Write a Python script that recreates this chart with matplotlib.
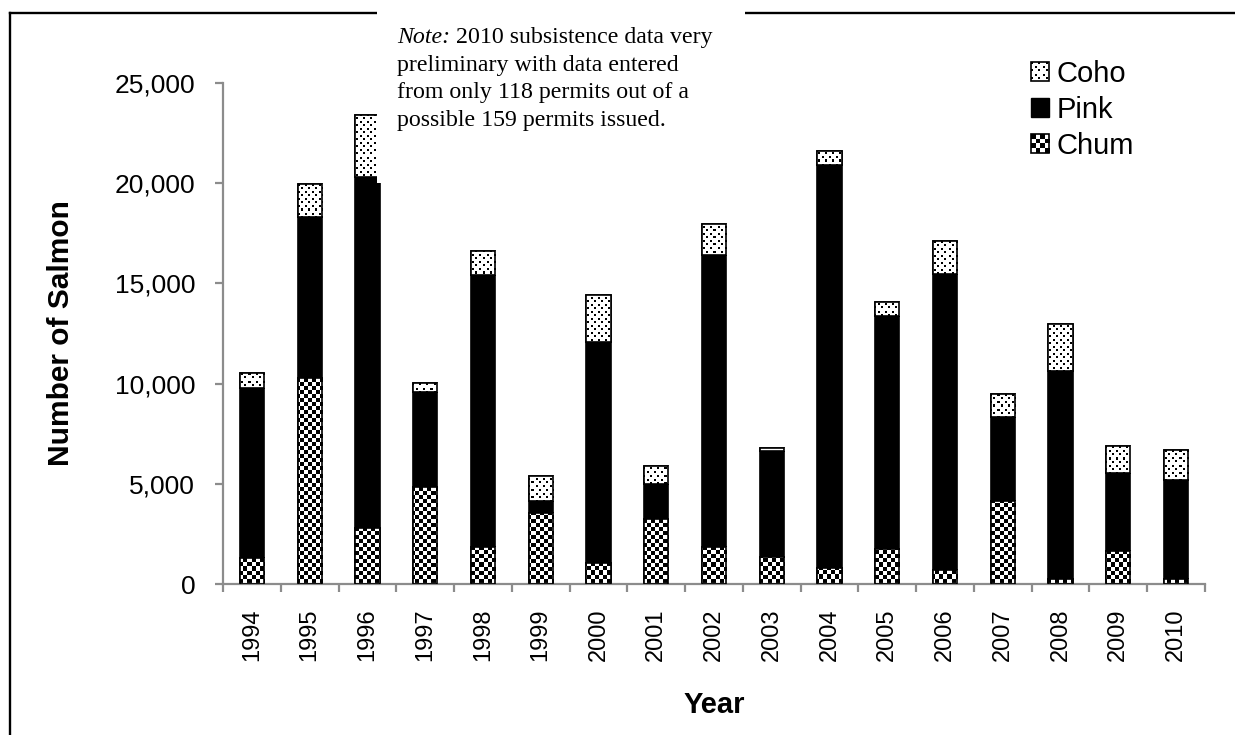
import numpy as np
import matplotlib
matplotlib.use("Agg")
import matplotlib.pyplot as plt
from matplotlib.patches import Rectangle, Patch
from matplotlib.lines import Line2D
from matplotlib.colors import Normalize
from matplotlib.image import BboxImage
from matplotlib.legend_handler import HandlerBase
from matplotlib.transforms import Bbox, TransformedBbox
from matplotlib.ticker import FuncFormatter

years = ["1994", "1995", "1996", "1997", "1998", "1999", "2000", "2001", "2002",
         "2003", "2004", "2005", "2006", "2007", "2008", "2009", "2010"]
chum = [1300, 10280, 2790, 4840, 1850, 3540, 1050, 3240, 1850,
        1350, 800, 1750, 700, 4140, 250, 1650, 250]
pink = [8480, 8020, 17510, 4740, 13550, 600, 11030, 1750, 14550,
        5290, 20100, 11620, 14770, 4190, 10380, 3890, 4940]
coho = [750, 1650, 3100, 450, 1200, 1250, 2320, 900, 1550,
        150, 700, 700, 1630, 1150, 2320, 1350, 1500]
note_lines = ["preliminary with data entered",
              "from only 118 permits out of a",
              "possible 159 permits issued."]

W, H = 1235, 735
plt.rcParams["font.family"] = ["Liberation Sans", "DejaVu Sans"]


def checker(h, w, cell):
    yy, xx = np.mgrid[0:h, 0:w]
    return ((yy // cell + xx // cell) % 2).astype(float)


def dots(h, w, step):
    yy, xx = np.mgrid[0:h, 0:w]
    a = np.ones((h, w))
    a[((yy % step) < 2) & ((xx % step) < 2)] = 0
    a[(((yy + step // 2) % step) < 2) & (((xx + step // 2) % step) < 2)] = 0
    return a


class TextureHandler(HandlerBase):
    def __init__(self, tex):
        super().__init__()
        self.tex = tex

    def legend_artist(self, legend, orig_handle, fontsize, handlebox):
        x0, y0 = -handlebox.xdescent, -handlebox.ydescent
        w, h = handlebox.width, handlebox.height
        trans = handlebox.get_transform()
        bb = TransformedBbox(Bbox.from_bounds(x0, y0, w, h), trans)
        im = BboxImage(bb, cmap="gray", norm=Normalize(0, 1), interpolation="nearest")
        im.set_data(self.tex)
        handlebox.add_artist(im)
        im.set_transform(trans)
        rect = Rectangle((x0, y0), w, h, fc="none", ec="black", lw=1.2)
        handlebox.add_artist(rect)
        return rect


fig = plt.figure(figsize=(W / 100, H / 100), dpi=100)
ax_l, ax_r, ax_b, ax_t = 223, 1205, 584, 83
ax = fig.add_axes([ax_l / W, 1 - ax_b / H, (ax_r - ax_l) / W, (ax_b - ax_t) / H])

x = np.arange(len(years))
bw = 0.42
chum_arr = np.array(chum)
pink_arr = np.array(pink)
coho_arr = np.array(coho)

b_chum = ax.bar(x, chum_arr, bw, color="white", edgecolor="black", lw=1.2, zorder=2)
ax.bar(x, pink_arr, bw, bottom=chum_arr, color="black", edgecolor="black", lw=1.2, zorder=2)
b_coho = ax.bar(x, coho_arr, bw, bottom=chum_arr + pink_arr, color="white",
                edgecolor="black", lw=1.2, zorder=2)

# textures clipped to each bar
aw, ah = ax_r - ax_l, ax_b - ax_t
tex_checker = checker(ah, aw, 4)
tex_dots = dots(ah, aw, 7)
for bars, tex in ((b_chum, tex_checker), (b_coho, tex_dots)):
    for bar in bars:
        im = ax.imshow(tex, extent=[0, 1, 0, 1], transform=ax.transAxes, cmap="gray",
                       vmin=0, vmax=1, interpolation="nearest", aspect="auto", zorder=2.1)
        im.set_clip_path(bar)
ax.bar(x, chum_arr, bw, fill=False, edgecolor="black", lw=1.2, zorder=3)
ax.bar(x, coho_arr, bw, bottom=chum_arr + pink_arr, fill=False,
       edgecolor="black", lw=1.2, zorder=3)

ax.set_xlim(-0.5, len(years) - 0.5)
ax.set_ylim(0, 25000)
ax.set_yticks(np.arange(0, 25001, 5000))
ax.yaxis.set_major_formatter(FuncFormatter(lambda v, p: f"{int(v):,}"))
ax.set_xticks(x)
ax.set_xticklabels(years, rotation=90)
ax.set_xticks(np.arange(-0.5, len(years)), minor=True)

for s in ("top", "right"):
    ax.spines[s].set_visible(False)
for s in ("left", "bottom"):
    ax.spines[s].set_color("#8c8c8c")
    ax.spines[s].set_linewidth(1.6)

ax.tick_params(axis="y", which="major", length=6, width=1.6, color="#8c8c8c",
               labelsize=19, pad=14)
ax.tick_params(axis="x", which="major", length=0, labelsize=17, pad=17.5)
ax.tick_params(axis="x", which="minor", length=6, width=1.6, color="#8c8c8c")

ax.set_ylabel("Number of Salmon", fontsize=21.5, fontweight="bold")
ax.yaxis.set_label_coords(-0.165, 0.5)
ax.yaxis.label.set_va("center")
ax.set_xlabel("Year", fontsize=21, fontweight="bold")
ax.xaxis.set_label_coords(0.5, -0.2415)
ax.xaxis.label.set_va("center")

handles = [Patch(label="Coho"), Patch(fc="black", ec="black", label="Pink"), Patch(label="Chum")]
hmap = {handles[0]: TextureHandler(dots(18, 18, 7)),
        handles[2]: TextureHandler(checker(16, 16, 4))}
fig.legend(handles=handles, handler_map=hmap, loc="upper left",
           bbox_to_anchor=(1031 / W, 1 - 60 / H), frameon=False, fontsize=21,
           handlelength=0.62, handleheight=0.6, handletextpad=0.25,
           labelspacing=0.27, borderpad=0, borderaxespad=0)

# outer frame of the chart area
fig.add_artist(Line2D([10 / W, 10 / W], [0, 1 - 13 / H], transform=fig.transFigure,
                      color="black", lw=1.7))
fig.add_artist(Line2D([10 / W, 1], [1 - 13 / H, 1 - 13 / H], transform=fig.transFigure,
                      color="black", lw=1.7))

# note box (white, sits over the frame and part of the 1996 bar)
fig.add_artist(Rectangle((377 / W, 1 - 183 / H), (745 - 377) / W, 183 / H,
                         transform=fig.transFigure, fc="white", ec="none", zorder=5))
serif = ["Liberation Serif", "DejaVu Serif"]
note_x, base_y, pitch, note_fs = 397, 43, 27.6, 17.2
note = fig.text(note_x / W, 1 - base_y / H, "Note:", family=serif, style="italic",
                fontsize=note_fs, va="baseline", zorder=6)
note_w = note.get_window_extent(fig.canvas.get_renderer()).width
fig.text((note_x + note_w) / W, 1 - base_y / H, " 2010 subsistence data very",
         family=serif, fontsize=note_fs, va="baseline", zorder=6)
for i, line in enumerate(note_lines, start=1):
    fig.text(note_x / W, 1 - (base_y + i * pitch) / H, line, family=serif,
             fontsize=note_fs, va="baseline", zorder=6)

fig.savefig("out.png", dpi=100)
